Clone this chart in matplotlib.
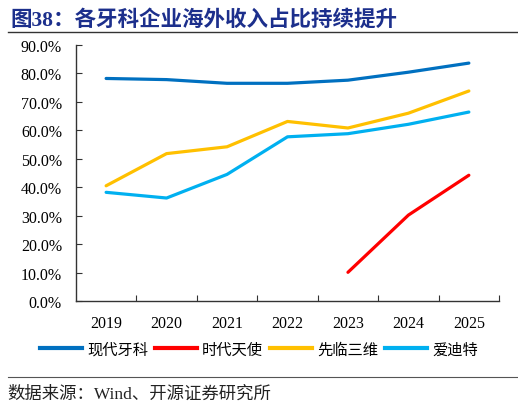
import matplotlib
matplotlib.use("Agg")
import matplotlib.pyplot as plt
from matplotlib.ticker import FuncFormatter
from matplotlib.lines import Line2D

plt.rcParams['font.family'] = ['Liberation Serif', 'Noto Sans CJK SC', 'DejaVu Sans']

years = ['2019', '2020', '2021', '2022', '2023', '2024', '2025']
xianDai = [78.2, 77.8, 76.5, 76.5, 77.6, 80.4, 83.6]
shiDai = [None, None, None, None, 10.1, 30.2, 44.2]
xianLin = [40.5, 51.8, 54.2, 63.1, 60.8, 66.0, 73.8]
aiDiTe = [38.2, 36.2, 44.5, 57.7, 58.8, 62.1, 66.4]

names = ['现代牙科', '时代天使', '先临三维', '爱迪特']
colors = ['#0070C0', '#FF0000', '#FFC000', '#00B0F0']
series = [xianDai, shiDai, xianLin, aiDiTe]

fig = plt.figure(figsize=(5.18, 4.06), dpi=100)
ax = fig.add_axes([0.1465, 0.256, 0.817, 0.631])

x = list(range(len(years)))
for vals, c in zip(series, colors):
    xs = [i for i, v in zip(x, vals) if v is not None]
    ys = [v for v in vals if v is not None]
    ax.plot(xs, ys, color=c, lw=2.3, solid_capstyle='round', zorder=3)

ax.set_xlim(-0.5, 6.5)
ax.set_ylim(0, 90)
ax.set_yticks(range(0, 91, 10))
ax.yaxis.set_major_formatter(FuncFormatter(lambda v, p: '%.1f%%' % v))
ax.set_xticks([i + 0.5 for i in range(6)] + [6.5])
ax.set_xticklabels([])
ax.set_xticks(x, minor=True)
ax.set_xticklabels(years, minor=True)
ax.tick_params(axis='x', which='minor', length=0, pad=10, labelsize=11.5)
ax.tick_params(axis='x', which='major', direction='in', length=4, color='#333333')
ax.tick_params(axis='y', direction='in', length=4, color='#333333', labelsize=11.5, pad=10)

for s in ['top', 'right']:
    ax.spines[s].set_visible(False)
for s in ['left', 'bottom']:
    ax.spines[s].set_color('#333333')
    ax.spines[s].set_linewidth(1.0)

handles = [Line2D([0], [0], color=c, lw=3) for c in colors]
leg = fig.legend(handles, names, loc='center', bbox_to_anchor=(0.5, 0.138), ncol=4,
                 frameon=False, handlelength=2.75, handletextpad=0.35, columnspacing=0.45,
                 prop={'family': ['Noto Sans CJK SC'], 'size': 11})

fig.text(0.02, 0.951, '图38：各牙科企业海外收入占比持续提升', fontsize=15.5, fontweight='bold',
         color='#1c2f8c', family=['Liberation Serif', 'Noto Sans CJK SC'], va='center')
fig.add_artist(Line2D([0.015, 0.998], [0.918, 0.918], color='#333333', lw=1.0))
fig.add_artist(Line2D([0.015, 0.998], [0.069, 0.069], color='#555555', lw=0.8))
fig.text(0.015, 0.027, '数据来源：Wind、开源证券研究所', fontsize=12.5,
         family=['Liberation Serif', 'Noto Sans CJK SC'], va='center', color='#222222')

fig.savefig('out.png', dpi=100)
